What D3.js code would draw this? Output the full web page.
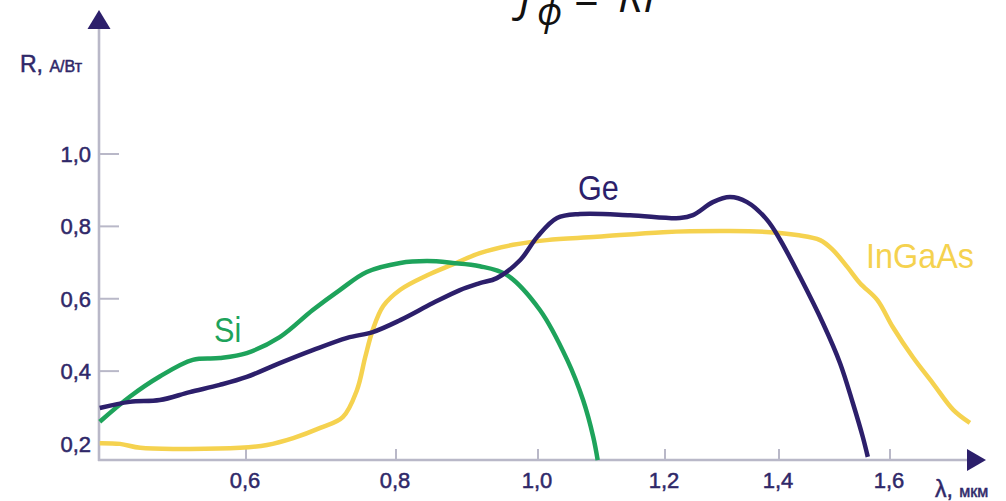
<!DOCTYPE html>
<html>
<head>
<meta charset="utf-8">
<script src="https://cdn.jsdelivr.net/npm/d3@7"></script>
<style>
  html, body { margin: 0; padding: 0; background: #ffffff; }
  svg { display: block; }
</style>
</head>
<body>
<svg id="chart" width="1006" height="501"></svg>
<script>
// ---- data ----
const xTicks = [0.6, 0.8, 1.0, 1.2, 1.4, 1.6];
const yTicks = [0.2, 0.4, 0.6, 0.8, 1.0];
const xTickLabels = ["0,6", "0,8", "1,0", "1,2", "1,4", "1,6"];
const yTickLabels = ["0,2", "0,4", "0,6", "0,8", "1,0"];

const siLambda = [0.405, 0.445, 0.485, 0.529, 0.565, 0.601, 0.645, 0.689, 0.725, 0.761, 0.806, 0.844, 0.880, 0.918, 0.956, 1.003, 1.046, 1.071, 1.087, 1.094];
const siR      = [0.260, 0.329, 0.385, 0.431, 0.436, 0.450, 0.494, 0.569, 0.624, 0.674, 0.699, 0.704, 0.699, 0.690, 0.666, 0.569, 0.431, 0.320, 0.218, 0.154];

const geLambda = [0.405, 0.445, 0.485, 0.525, 0.565, 0.601, 0.645, 0.689, 0.735, 0.769, 0.806, 0.852, 0.890, 0.918, 0.942, 0.975, 0.999, 1.030, 1.066, 1.145, 1.226, 1.249, 1.284, 1.314, 1.344, 1.379, 1.402, 1.438, 1.479, 1.510, 1.533, 1.551, 1.560];
const geR      = [0.298, 0.315, 0.320, 0.342, 0.362, 0.384, 0.422, 0.458, 0.492, 0.508, 0.541, 0.588, 0.624, 0.643, 0.657, 0.707, 0.771, 0.823, 0.834, 0.831, 0.823, 0.831, 0.867, 0.881, 0.867, 0.818, 0.763, 0.660, 0.533, 0.422, 0.312, 0.218, 0.163];

const ingaasLambda = [0.405, 0.432, 0.459, 0.512, 0.592, 0.628, 0.663, 0.699, 0.729, 0.748, 0.759, 0.769, 0.783, 0.806, 0.844, 0.880, 0.918, 0.965, 1.014, 1.093, 1.197, 1.314, 1.384, 1.432, 1.474, 1.497, 1.523, 1.546, 1.577, 1.605, 1.641, 1.677, 1.714, 1.744];
const ingaasR      = [0.201, 0.199, 0.188, 0.185, 0.188, 0.196, 0.215, 0.243, 0.273, 0.348, 0.439, 0.514, 0.580, 0.625, 0.665, 0.695, 0.726, 0.749, 0.762, 0.771, 0.784, 0.787, 0.784, 0.776, 0.762, 0.735, 0.688, 0.643, 0.597, 0.522, 0.439, 0.367, 0.293, 0.257];

const seriesNames = ["Si", "Ge", "InGaAs"];

// ---- layout / style ----
const C = {
  axis: "#b9b8c8",
  text: "#2f2869",
  si: "#1ea35b",
  ge: "#2c1f6b",
  ingaas: "#f5d24f",
  arrow: "#2c1f6b"
};
const svg = d3.select("#chart");

// piecewise-linear wavelength axis (the original axis is not evenly spaced)
const x = d3.scaleLinear().domain(xTicks).range([246, 396, 538, 665, 779, 890]);
const y = d3.scaleLinear().domain([0.2, 1.0]).range([443.5, 154]);

const axisX0 = 99, axisY0 = 460;

// axes lines
svg.append("line").attr("x1", axisX0).attr("x2", axisX0).attr("y1", axisY0 + 1).attr("y2", 28)
  .attr("stroke", C.axis).attr("stroke-width", 2.6);
svg.append("line").attr("x1", axisX0 - 1).attr("x2", 970).attr("y1", axisY0).attr("y2", axisY0)
  .attr("stroke", C.axis).attr("stroke-width", 2.6);

// arrows
svg.append("path").attr("d", `M${axisX0},10 L${axisX0 + 11.5},29 L${axisX0 - 11.5},29 Z`).attr("fill", C.arrow);
svg.append("path").attr("d", `M986,${axisY0} L967,${axisY0 - 11} L967,${axisY0 + 11} Z`).attr("fill", C.arrow);

// y ticks
svg.selectAll(".yt").data(yTicks).enter().append("line")
  .attr("x1", axisX0).attr("x2", axisX0 + 20)
  .attr("y1", d => y(d)).attr("y2", d => y(d))
  .attr("stroke", C.axis).attr("stroke-width", 2);
svg.selectAll(".ytl").data(yTicks).enter().append("text")
  .attr("x", 91).attr("y", d => y(d) + 8)
  .attr("text-anchor", "end")
  .attr("font-family", "Liberation Sans, Arial, sans-serif")
  .attr("font-size", 22).attr("fill", C.text)
  .attr("stroke", C.text).attr("stroke-width", 0.5)
  .text((d, i) => yTickLabels[i]);

// x ticks
svg.selectAll(".xt").data(xTicks).enter().append("line")
  .attr("x1", d => x(d)).attr("x2", d => x(d))
  .attr("y1", axisY0).attr("y2", axisY0 - 11)
  .attr("stroke", C.axis).attr("stroke-width", 2);
svg.selectAll(".xtl").data(xTicks).enter().append("text")
  .attr("x", d => x(d) - 1).attr("y", 488)
  .attr("text-anchor", "middle")
  .attr("font-family", "Liberation Sans, Arial, sans-serif")
  .attr("font-size", 22).attr("fill", C.text)
  .attr("stroke", C.text).attr("stroke-width", 0.5)
  .text((d, i) => xTickLabels[i]);

// axis titles
const yt = svg.append("text").attr("x", 20).attr("y", 72)
  .attr("font-family", "Liberation Sans, Arial, sans-serif").attr("fill", C.text)
  .attr("stroke", C.text).attr("stroke-width", 0.5);
yt.append("tspan").attr("font-size", 23).text("R, ");
yt.append("tspan").attr("font-size", 16).text("А/Вт");

const xt = svg.append("text").attr("x", 935).attr("y", 497)
  .attr("font-family", "Liberation Sans, Arial, sans-serif").attr("fill", C.text)
  .attr("stroke", C.text).attr("stroke-width", 0.5);
xt.append("tspan").attr("font-size", 23).text("λ, ");
xt.append("tspan").attr("font-size", 16).text("мкм");

// formula (cut at top of picture)
const ff = "Open Sans, Noto Sans, sans-serif";
svg.append("text").attr("x", 519).attr("y", 12).attr("font-family", ff).attr("font-style", "italic")
  .attr("font-size", 44).attr("fill", "#111").text("J");
svg.append("text").attr("x", 537).attr("y", 25).attr("font-family", ff).attr("font-style", "italic")
  .attr("font-size", 38).attr("fill", "#111").text("ф");
svg.append("text").attr("x", 573).attr("y", 15).attr("font-family", ff).attr("font-style", "italic")
  .attr("font-size", 44).attr("fill", "#111").text("=");
svg.append("text").attr("x", 618).attr("y", 12).attr("font-family", ff).attr("font-style", "italic")
  .attr("font-size", 44).attr("fill", "#111").text("RP");

// curves
const line = d3.line().x(d => x(d[0])).y(d => y(d[1])).curve(d3.curveCatmullRom.alpha(0.5));
const series = [
  { name: seriesNames[0], lam: siLambda, r: siR, color: C.si },
  { name: seriesNames[1], lam: geLambda, r: geR, color: C.ge },
  { name: seriesNames[2], lam: ingaasLambda, r: ingaasR, color: C.ingaas }
];
[series[2], series[0], series[1]].forEach(s => {
  svg.append("path")
    .datum(s.lam.map((l, i) => [l, s.r[i]]))
    .attr("d", line)
    .attr("fill", "none")
    .attr("stroke", s.color)
    .attr("stroke-width", 4.5)
    .attr("stroke-linejoin", "round")
    .attr("stroke-linecap", "butt");
});

// series labels (condensed)
function label(txt, px, py, color, sx) {
  svg.append("text")
    .attr("transform", `translate(${px},${py}) scale(${sx},1)`)
    .attr("font-family", "Liberation Sans, Arial, sans-serif")
    .attr("font-size", 36).attr("fill", color)
    .text(txt);
}
label(seriesNames[0], 214, 342, C.si, 0.85);
label(seriesNames[1], 578, 200, C.ge, 0.85);
label(seriesNames[2], 866, 268, C.ingaas, 0.9);
</script>
</body>
</html>
